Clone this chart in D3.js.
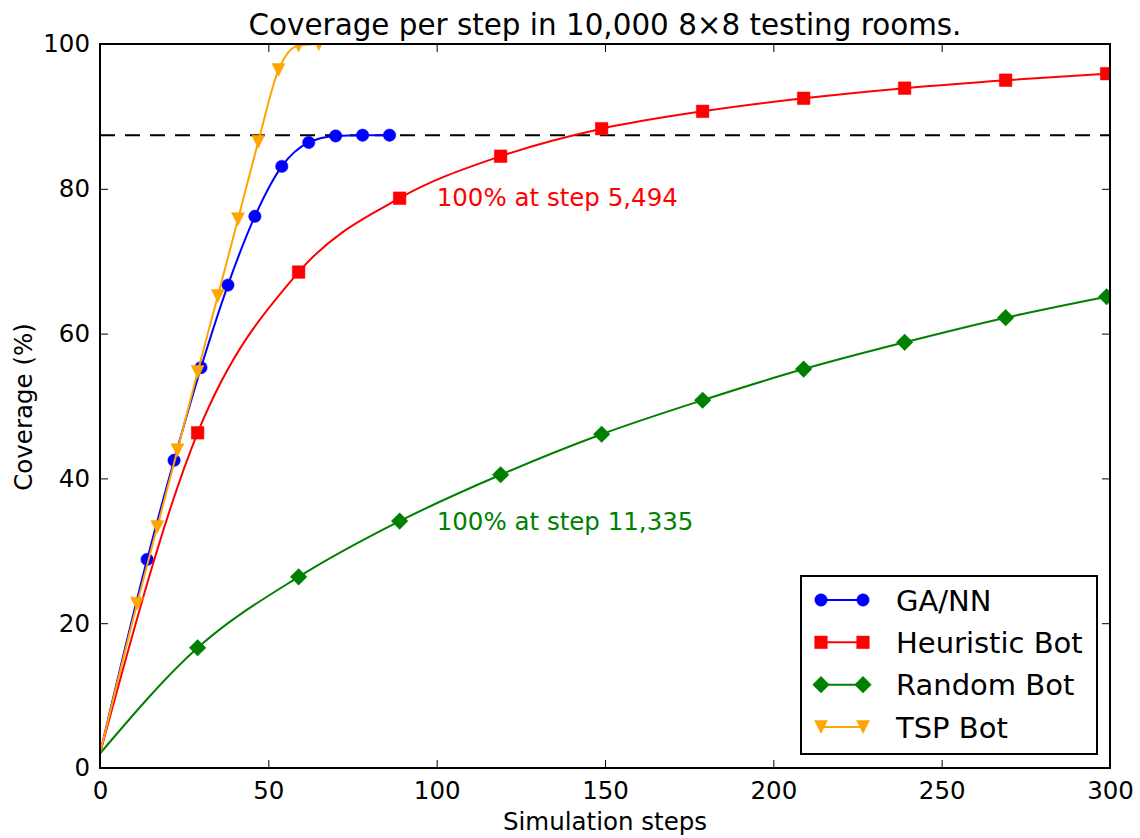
<!DOCTYPE html>
<html>
<head>
<meta charset="utf-8">
<script src="https://cdn.jsdelivr.net/npm/d3@7"></script>
<style>
  html, body { margin: 0; padding: 0; background: #fff; }
  svg { display: block; font-family: "DejaVu Sans", sans-serif; }
</style>
</head>
<body>
<svg id="chart" width="1140" height="838"></svg>
<script>
// Coverage (%) after each simulation step, averaged over the testing rooms.
const gaSteps   = [0, 14, 22, 30, 38, 46, 54, 62, 70, 78, 86];
const gaCov     = [2.0, 28.8, 42.5, 55.3, 66.7, 76.2, 83.1, 86.4, 87.3, 87.4, 87.4];

const heurSteps = [0, 29, 59, 89, 119, 149, 179, 209, 239, 269, 299];
const heurCov   = [2.0, 46.3, 68.5, 78.7, 84.5, 88.3, 90.7, 92.5, 93.9, 95.0, 95.9];

const randSteps = [0, 29, 59, 89, 119, 149, 179, 209, 239, 269, 299];
const randCov   = [2.0, 16.6, 26.4, 34.1, 40.5, 46.1, 50.8, 55.1, 58.8, 62.2, 65.1];

const tspSteps  = [0, 11, 17, 23, 29, 35, 41, 47, 53, 59, 65];
const tspCov    = [2.0, 22.7, 33.3, 43.9, 54.7, 65.2, 75.8, 86.5, 96.4, 99.8, 100];

const seriesNames = ["GA/NN", "Heuristic Bot", "Random Bot", "TSP Bot"];
const gaPlateau = 87.4;

const xTicks = [0, 50, 100, 150, 200, 250, 300];
const yTicks = [0, 20, 40, 60, 80, 100];

const notes = [
  { text: "100% at step 5,494", step: 100, cov: 77.6, color: "#ff0000" },
  { text: "100% at step 11,335", step: 100, cov: 32.9, color: "#008000" }
];

const series = [
  { name: seriesNames[0], steps: gaSteps,   cov: gaCov,   color: "#0000ff", marker: "circle" },
  { name: seriesNames[1], steps: heurSteps, cov: heurCov, color: "#ff0000", marker: "square" },
  { name: seriesNames[2], steps: randSteps, cov: randCov, color: "#008000", marker: "diamond" },
  { name: seriesNames[3], steps: tspSteps,  cov: tspCov,  color: "#ffa500", marker: "tri_down" }
];

const svg = d3.select("#chart");
const plot = { left: 100, right: 1110, top: 44, bottom: 768 };

const x = d3.scaleLinear().domain([0, 300]).range([plot.left, plot.right]);
const y = d3.scaleLinear().domain([0, 100]).range([plot.bottom, plot.top]);

// marker outlines, centred on the origin
function markerPath(kind) {
  switch (kind) {
    case "circle":  return d3.symbol(d3.symbolCircle, Math.PI * 6.2 * 6.2)();
    case "square":  return "M-6.3,-6.3H6.3V6.3H-6.3Z";
    case "diamond": return "M0,-8.3L8.3,0L0,8.3L-8.3,0Z";
    case "tri_down": return "M0,6.5L-6.5,-6.5L6.5,-6.5Z";
  }
}

svg.append("defs").append("clipPath").attr("id", "plotClip")
  .append("rect")
  .attr("x", plot.left).attr("y", plot.top)
  .attr("width", plot.right - plot.left).attr("height", plot.bottom - plot.top);

const inner = svg.append("g").attr("clip-path", "url(#plotClip)");

// reference level reached by GA/NN
inner.append("line")
  .attr("x1", x(0)).attr("x2", x(300))
  .attr("y1", y(gaPlateau)).attr("y2", y(gaPlateau))
  .attr("stroke", "#000").attr("stroke-width", 2)
  .attr("stroke-dasharray", "15,10");

const line = d3.line().curve(d3.curveMonotoneX)
  .x(d => x(d[0])).y(d => y(d[1]));

series.forEach(s => {
  const pts = s.steps.map((st, i) => [st, s.cov[i]]);
  inner.append("path")
    .attr("d", line(pts))
    .attr("fill", "none")
    .attr("stroke", s.color)
    .attr("stroke-width", 2);
  inner.selectAll(null)
    .data(pts.slice(1))
    .join("path")
    .attr("d", markerPath(s.marker))
    .attr("transform", d => `translate(${x(d[0])},${y(d[1])})`)
    .attr("fill", s.color)
    .attr("stroke", s.color)
    .attr("stroke-width", 0.5);
});

// annotations
notes.forEach(n => {
  svg.append("text")
    .attr("x", x(n.step)).attr("y", y(n.cov))
    .attr("fill", n.color)
    .attr("font-size", 24.5)
    .text(n.text);
});

// axes: inward ticks on all four sides
const tickLen = 8;
const axes = svg.append("g");
axes.append("g").attr("transform", `translate(0,${plot.bottom})`)
  .call(d3.axisBottom(x).tickValues(xTicks).tickSizeInner(-tickLen).tickSizeOuter(0).tickPadding(14));
axes.append("g").attr("transform", `translate(0,${plot.top})`)
  .call(d3.axisTop(x).tickValues(xTicks).tickSizeInner(-tickLen).tickSizeOuter(0).tickFormat(""));
axes.append("g").attr("transform", `translate(${plot.left},0)`)
  .call(d3.axisLeft(y).tickValues(yTicks).tickSizeInner(-tickLen).tickSizeOuter(0).tickPadding(10));
axes.append("g").attr("transform", `translate(${plot.right},0)`)
  .call(d3.axisRight(y).tickValues(yTicks).tickSizeInner(-tickLen).tickSizeOuter(0).tickFormat(""));

axes.selectAll(".domain").remove();
axes.selectAll(".tick line").attr("stroke", "#000").attr("stroke-width", 1);
axes.selectAll(".tick text")
  .attr("font-family", "DejaVu Sans")
  .attr("font-size", 24.5)
  .attr("fill", "#000");

// frame
svg.append("rect")
  .attr("x", plot.left).attr("y", plot.top)
  .attr("width", plot.right - plot.left).attr("height", plot.bottom - plot.top)
  .attr("fill", "none").attr("stroke", "#000").attr("stroke-width", 2);

// title and axis labels
svg.append("text")
  .attr("x", (plot.left + plot.right) / 2).attr("y", 35)
  .attr("text-anchor", "middle").attr("font-size", 29.4)
  .text("Coverage per step in 10,000 8\u00d78 testing rooms.");

svg.append("text")
  .attr("x", (plot.left + plot.right) / 2).attr("y", 830)
  .attr("text-anchor", "middle").attr("font-size", 24.5)
  .text("Simulation steps");

svg.append("text")
  .attr("transform", `translate(32,${(plot.top + plot.bottom) / 2 + 1}) rotate(-90)`)
  .attr("text-anchor", "middle").attr("font-size", 24.5)
  .text("Coverage (%)");

// legend
const legend = svg.append("g");
legend.append("rect")
  .attr("x", 801).attr("y", 576).attr("width", 296).attr("height", 178)
  .attr("fill", "#fff").attr("stroke", "#000").attr("stroke-width", 2);

const rowY = d3.scalePoint().domain(seriesNames).range([600, 727]);
series.forEach(s => {
  const g = legend.append("g").attr("transform", `translate(0,${rowY(s.name)})`);
  g.append("line").attr("x1", 821).attr("x2", 863).attr("y1", 0).attr("y2", 0)
    .attr("stroke", s.color).attr("stroke-width", 2);
  [821, 863].forEach(px => {
    g.append("path").attr("d", markerPath(s.marker))
      .attr("transform", `translate(${px},0)`)
      .attr("fill", s.color).attr("stroke", s.color).attr("stroke-width", 0.5);
  });
  g.append("text").attr("x", 896).attr("y", 10.5)
    .attr("font-size", 29).text(s.name);
});
</script>
</body>
</html>
